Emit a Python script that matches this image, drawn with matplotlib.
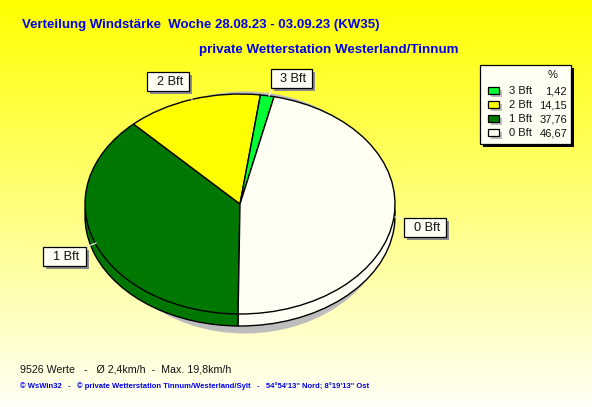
import numpy as np
import matplotlib
matplotlib.use("Agg")
import matplotlib.pyplot as plt
from matplotlib.patches import Rectangle, Ellipse

W, H = 592, 407
categories = ["3 Bft", "2 Bft", "1 Bft", "0 Bft"]
values = [1.42, 14.15, 37.76, 46.67]
value_labels = ["1,42", "14,15", "37,76", "46,67"]
colors = ["#00FF33", "#FFFF00", "#007700", "#FFFFF4"]
title1 = "Verteilung Windstärke  Woche 28.08.23 - 03.09.23 (KW35)"
title2 = "private Wetterstation Westerland/Tinnum"
info = "9526 Werte   -   Ø 2,4km/h  -  Max. 19,8km/h"
footer = "© WsWin32   -   © private Wetterstation Tinnum/Westerland/Sylt   -   54°54'13\" Nord; 8°19'13\" Ost"

plt.rcParams["font.family"] = ["Liberation Sans", "DejaVu Sans"]
fig = plt.figure(figsize=(W / 100, H / 100), dpi=100)

# overlay in pixel coordinates (y downwards)
bg = fig.add_axes([0, 0, 1, 1], zorder=0)
bg.set_xlim(0, W); bg.set_ylim(H, 0); bg.axis("off")
t = np.linspace(0, 1, 256).reshape(-1, 1)
grad = np.dstack([np.ones_like(t), np.ones_like(t), t * 0.97])
bg.imshow(grad, extent=[0, W, H, 0], aspect="auto", zorder=0)
bg.set_xlim(0, W); bg.set_ylim(H, 0)
bg.add_patch(Ellipse((245, 212.5), 294, 242, fc="#BDBDBD", ec="none", zorder=1))

# pie: ellipse 85..395 x 94..314 px
cx, cy, rx, ry = 240, 204, 155, 110
depth = 12
ax = fig.add_axes([(cx - rx) / W, 1 - (cy + ry) / H, 2 * rx / W, 2 * ry / H], zorder=1)
ax.patch.set_alpha(0)
# drawn clockwise from the bottom: 1, 2, 3, 0 Bft
order = [2, 1, 0, 3]
vals = [values[i] for i in order]
cols = [colors[i] for i in order]
wp = dict(edgecolor="black", linewidth=1.0)
ax.pie(vals, colors=cols, startangle=269.3, counterclock=False,
       center=(0, -depth / ry), radius=1, wedgeprops=wp, normalize=True)
ax.pie(vals, colors=cols, startangle=269.3, counterclock=False,
       center=(0, 0), radius=1, wedgeprops=wp, normalize=True)
ax.set_aspect("auto")
ax.set_xlim(-1, 1); ax.set_ylim(-1, 1)
for p in ax.patches:
    p.set_clip_on(False)
ax.axis("off")

ov = fig.add_axes([0, 0, 1, 1], zorder=2)
ov.set_xlim(0, W); ov.set_ylim(H, 0); ov.axis("off"); ov.patch.set_alpha(0)

# callouts
IVORY = "#FFFFF4"
callouts = {
    "3 Bft": (271, 69, 41, 19, (272, 88), (269, 96)),
    "2 Bft": (147, 72, 42, 19, (191, 93), (192, 100)),
    "1 Bft": (43, 247, 43, 19, (86, 247), (96, 243)),
    "0 Bft": (404, 218, 42, 19, (404, 219), (395, 217)),
}
for name, (x, y, w, h, a, b) in callouts.items():
    ov.plot([a[0], b[0]], [a[1], b[1]], color="#FFFFE8", lw=0.8, zorder=3)
    ov.add_patch(Rectangle((x + 3, y + 3), w, h, fc="#8C8C8C", ec="none", zorder=3))
    ov.add_patch(Rectangle((x, y), w, h, fc=IVORY, ec="black", lw=0.9, zorder=4))
    ov.text(x + w / 2 + 2, y + h / 2 + 0.5, name, ha="center", va="center",
            fontsize=9.2, color="#111111", zorder=5)

# legend
ov.add_patch(Rectangle((483, 68), 91, 79, fc="black", ec="none", zorder=3))
ov.add_patch(Rectangle((480, 65), 91, 79, fc=IVORY, ec="black", lw=0.9, zorder=4))
ov.text(553, 75, "%", ha="center", va="center", fontsize=8, color="#111111", zorder=5)
for i, (c, col, vl) in enumerate(zip(categories, colors, value_labels)):
    y = 91 + 14 * i
    ov.add_patch(Rectangle((491, y - 1), 11, 7, fc="#BDBDBD", ec="none", zorder=5))
    ov.add_patch(Rectangle((488, y - 4), 11, 7, fc=col, ec="black", lw=0.9, zorder=6))
    ov.text(509, y, c, ha="left", va="center", fontsize=8, color="#111111", zorder=5)
    ov.text(567, y, vl, ha="right", va="center", fontsize=8, color="#111111", zorder=5)

# texts
ov.text(22, 25, title1, ha="left", va="center", fontsize=9.5, fontweight="bold", color="#0000EE")
ov.text(199, 50, title2, ha="left", va="center", fontsize=9.65, fontweight="bold", color="#0000EE")
ov.text(20, 369, info, ha="left", va="center", fontsize=7.7, color="#111111")
ov.text(20, 386, footer, ha="left", va="center", fontsize=5.5, fontweight="bold",
        color="#0000EE")

fig.savefig("out.png", dpi=100)
